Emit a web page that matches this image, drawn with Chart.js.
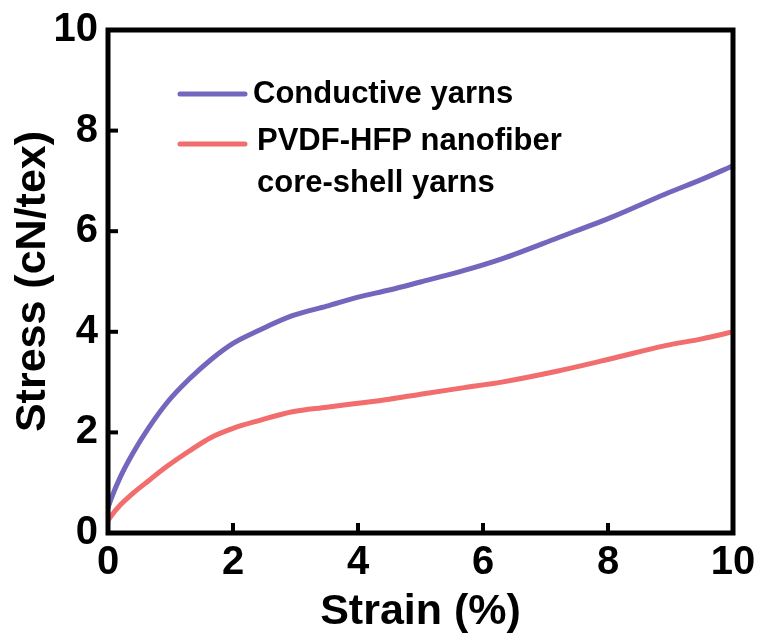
<!DOCTYPE html>
<html>
<head>
<meta charset="utf-8">
<script src="https://cdn.jsdelivr.net/npm/chart.js@4.4.1/dist/chart.umd.min.js"></script>
<style>
  html, body { margin: 0; padding: 0; background: #fff; }
  #wrap { width: 763px; height: 642px; }
</style>
</head>
<body>
<div id="wrap"><canvas id="stressChart"></canvas></div>
<script>
// Strain (%) sample points
const strain = [0, 0.05, 0.2, 0.4, 0.65, 0.95, 1.3, 1.65, 2.0, 2.4, 2.95, 3.5, 4.0, 4.5, 5.0, 5.7, 6.3, 7.2, 8.1, 8.9, 9.5, 10.0];
// Stress (cN/tex)
const conductive = [0.5, 0.68, 1.12, 1.59, 2.09, 2.6, 3.06, 3.45, 3.77, 4.02, 4.32, 4.51, 4.69, 4.83, 4.99, 5.22, 5.45, 5.87, 6.3, 6.73, 7.03, 7.3];
const coreShell = [0.25, 0.34, 0.56, 0.79, 1.04, 1.33, 1.63, 1.9, 2.08, 2.23, 2.41, 2.5, 2.58, 2.66, 2.76, 2.89, 3.0, 3.22, 3.48, 3.72, 3.86, 4.0];

const xTicks = [0, 2, 4, 6, 8, 10];
const yTicks = [0, 2, 4, 6, 8, 10];

const legendLabels = [['Conductive yarns'], ['PVDF-HFP nanofiber', 'core-shell yarns']];

const blue = '#7266bd';
const red = '#f26d6d';
const FONT = '"Liberation Sans", Arial, sans-serif';

function toPoints(xs, ys) {
    return xs.map((x, i) => ({ x: x, y: ys[i] }));
}

// box frame + inward ticks
const framePlugin = {
    id: 'frame',
    afterDatasetsDraw(chart) {
        const ctx = chart.ctx;
        const a = chart.chartArea;
        const xs = chart.scales.x, ys = chart.scales.y;
        ctx.save();
        ctx.strokeStyle = '#000';
        ctx.lineWidth = 5;
        ctx.lineJoin = 'miter';
        ctx.strokeRect(a.left, a.top, a.right - a.left, a.bottom - a.top);
        ctx.lineWidth = 4;
        xTicks.slice(1, -1).forEach(v => {
            const px = xs.getPixelForValue(v);
            ctx.beginPath();
            ctx.moveTo(px, a.bottom);
            ctx.lineTo(px, a.bottom - 10);
            ctx.stroke();
        });
        yTicks.slice(1, -1).forEach(v => {
            const py = ys.getPixelForValue(v);
            ctx.beginPath();
            ctx.moveTo(a.left, py);
            ctx.lineTo(a.left + 10, py);
            ctx.stroke();
        });
        ctx.restore();
    }
};

// legend drawn inside the plot, second entry wraps to two lines
const legendPlugin = {
    id: 'insideLegend',
    afterDraw(chart) {
        const ctx = chart.ctx;
        const a = chart.chartArea;
        const x0 = a.left + 72, x1 = a.left + 137, tx = a.left + 145;
        const rows = [a.top + 64, a.top + 111];
        ctx.save();
        ctx.font = 'bold 31px ' + FONT;
        ctx.textBaseline = 'middle';
        ctx.fillStyle = '#000';
        chart.data.datasets.forEach((ds, i) => {
            ctx.strokeStyle = ds.borderColor;
            ctx.lineWidth = 5;
            ctx.lineCap = 'round';
            ctx.beginPath();
            ctx.moveTo(x0, rows[i] + (i ? 3 : 0));
            ctx.lineTo(x1, rows[i] + (i ? 3 : 0));
            ctx.stroke();
            legendLabels[i].forEach((t, j) => {
                ctx.fillText(t, tx + (i ? 4 : 0), rows[i] + j * 42);
            });
        });
        ctx.restore();
    }
};

new Chart(document.getElementById('stressChart'), {
    type: 'line',
    data: {
        datasets: [
            {
                label: 'Conductive yarns',
                data: toPoints(strain, conductive),
                borderColor: blue,
                borderWidth: 5,
                pointRadius: 0,
                cubicInterpolationMode: 'monotone',
                fill: false
            },
            {
                label: 'PVDF-HFP nanofiber core-shell yarns',
                data: toPoints(strain, coreShell),
                borderColor: red,
                borderWidth: 5,
                pointRadius: 0,
                cubicInterpolationMode: 'monotone',
                fill: false
            }
        ]
    },
    options: {
        responsive: true,
        maintainAspectRatio: false,
        animation: false,
        layout: { padding: { top: 29, right: 30, left: 0, bottom: 0 } },
        plugins: {
            legend: { display: false },
            tooltip: { enabled: false }
        },
        scales: {
            x: {
                type: 'linear',
                min: 0,
                max: 10,
                afterBuildTicks: s => { s.ticks = xTicks.map(v => ({ value: v })); },
                afterFit: s => { s.height = 109; },
                border: { display: false },
                grid: { display: false, drawTicks: false },
                ticks: {
                    color: '#000',
                    padding: 6,
                    maxRotation: 0,
                    font: { family: FONT, size: 40, weight: 'bold' }
                },
                title: {
                    display: true,
                    text: 'Strain (%)',
                    color: '#000',
                    padding: { top: 0, bottom: 4 },
                    font: { family: FONT, size: 43, weight: 'bold' }
                }
            },
            y: {
                min: 0,
                max: 10,
                afterBuildTicks: s => { s.ticks = yTicks.map(v => ({ value: v })); },
                afterFit: s => { s.width = 108; },
                border: { display: false },
                grid: { display: false, drawTicks: false },
                ticks: {
                    color: '#000',
                    padding: 10,
                    font: { family: FONT, size: 40, weight: 'bold', lineHeight: 1 }
                },
                title: {
                    display: true,
                    text: 'Stress (cN/tex)',
                    color: '#000',
                    padding: { top: 7, bottom: 0 },
                    font: { family: FONT, size: 43, weight: 'bold' }
                }
            }
        }
    },
    plugins: [framePlugin, legendPlugin]
});
</script>
</body>
</html>
